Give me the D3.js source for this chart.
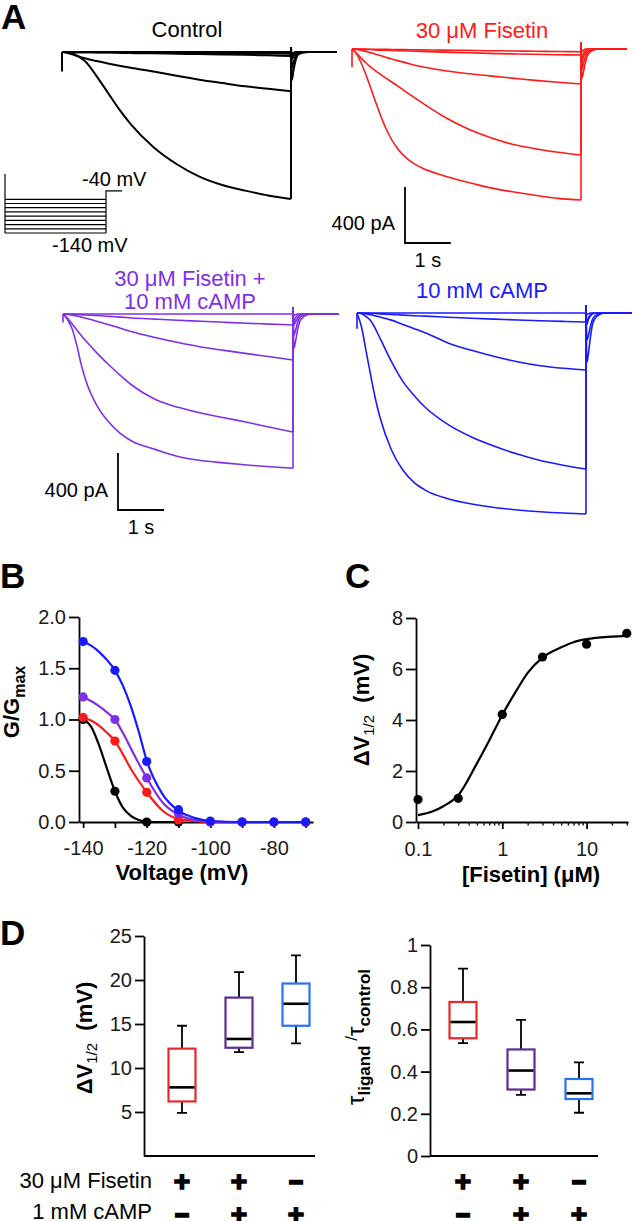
<!DOCTYPE html>
<html><head><meta charset="utf-8">
<script src="https://cdn.jsdelivr.net/npm/d3@7"></script>
<style>body{margin:0;background:#fff}svg{display:block}</style>
</head><body><svg id="fig" width="633" height="1221"></svg>
<script>
// ---------------- DATA ----------------
// Panel A: current traces (pA) sampled at times (s)
const stepTimes = [0, 0.1, 0.2, 0.3, 0.4, 0.5, 0.75, 1, 1.25, 1.5, 2, 2.5, 3, 3.5, 4, 4.5, 5];
const tailTimes = [5, 5.02, 5.05, 5.1, 5.15, 5.25, 5.4, 6.0];

const controlSteps = [
  [0, -2, -8, -20, -40, -65, -170, -290, -410, -515, -680, -800, -890, -950, -990, -1025, -1050],
  [0, -5, -14, -25, -35, -45, -65, -82, -98, -113, -140, -170, -198, -222, -245, -263, -280],
  [0, 0, -1, -1, -2, -2, -3, -4, -6, -8, -9, -12, -15, -18, -20, -24, -28],
  [0, 0, 0, -1, -1, -1, -2, -2, -3, -4, -5, -6, -7, -8, -9, -11, -12],
  [0, 0, 0, 0, 0, 0, 0, 0, 0, 0, 0, 0, 0, 0, 0, 0, 0]
];
const controlTails = [
  [35, -40, -20, -5, 0, 0, 0, 0],
  [30, -200, -140, -60, -20, -5, 0, 0],
  [20, -110, -80, -30, -10, 0, 0, 0],
  [10, -50, -30, -10, 0, 0, 0, 0],
  [0, -15, -8, 0, 0, 0, 0, 0]
];
const fisetinSteps = [
  [0, -35, -100, -180, -270, -365, -575, -715, -795, -845, -905, -950, -990, -1020, -1045, -1067, -1079],
  [0, -30, -65, -98, -127, -152, -210, -265, -322, -378, -482, -566, -630, -680, -712, -738, -757],
  [0, -4, -10, -17, -26, -35, -60, -83, -105, -125, -153, -175, -192, -208, -224, -238, -250],
  [0, -1, -2, -3, -4, -6, -9, -12, -14, -17, -22, -27, -31, -35, -38, -41, -43],
  [0, 0, -1, -1, -2, -2, -3, -4, -5, -6, -8, -10, -12, -14, -16, -18, -20]
];
const fisetinTails = [
  [50, -100, -40, -10, 0, 0, 0, 0],
  [45, -207, -170, -90, -40, -10, 0, 0],
  [30, -145, -110, -50, -20, -5, 0, 0],
  [15, -76, -55, -25, -10, 0, 0, 0],
  [0, -20, -10, 0, 0, 0, 0, 0]
];
const comboSteps = [
  [0, -40, -105, -220, -360, -470, -650, -760, -840, -893, -950, -1000, -1028, -1045, -1060, -1072, -1082],
  [0, -30, -70, -112, -152, -190, -278, -358, -432, -500, -598, -655, -695, -728, -760, -795, -828],
  [0, -3, -8, -14, -22, -30, -52, -75, -100, -125, -165, -200, -231, -255, -278, -300, -323],
  [0, -1, -2, -3, -5, -7, -11, -17, -22, -28, -36, -44, -51, -58, -65, -71, -77],
  [0, 0, 0, 0, 0, 0, 0, 0, 0, 0, 0, 0, 0, 0, 0, 0, 0]
];
const comboTails = [
  [50, -60, -30, -10, 0, 0, 0, 0],
  [45, -240, -200, -110, -50, -15, 0, 0],
  [35, -150, -120, -60, -25, -5, 0, 0],
  [15, -77, -60, -30, -10, 0, 0, 0],
  [0, -10, -5, 0, 0, 0, 0, 0]
];
const campSteps = [
  [0, -100, -270, -440, -600, -730, -960, -1102, -1190, -1245, -1305, -1340, -1365, -1382, -1395, -1404, -1410],
  [0, -5, -25, -55, -110, -175, -340, -480, -580, -665, -785, -870, -935, -990, -1035, -1068, -1095],
  [0, -2, -6, -12, -20, -28, -50, -80, -110, -140, -212, -262, -305, -342, -370, -388, -400],
  [0, -1, -2, -3, -4, -6, -10, -15, -19, -22, -30, -37, -43, -49, -54, -59, -63],
  [0, 0, 0, 0, 0, 0, 0, 0, 0, 0, 0, 0, 0, 0, 0, 0, 0]
];
const campTails = [
  [55, -80, -40, -10, 0, 0, 0, 0],
  [55, -345, -290, -160, -70, -20, 0, 0],
  [40, -190, -160, -90, -40, -10, 0, 0],
  [15, -60, -45, -20, -5, 0, 0, 0],
  [0, -10, -5, 0, 0, 0, 0, 0]
];
const capPeaks = [-140, -130, -60, -110];   // capacitive transient at pulse onset (pA)
const traceTitles = [["Control"], ["30 \u03bcM Fisetin"], ["30 \u03bcM Fisetin +", "10 mM cAMP"], ["10 mM cAMP"]];

// voltage protocol (mV, s)
const protoTestV = [-140, -130, -120, -110, -100, -90, -80, -70, -60];
const protoHoldV = 0;
const protoTailV = -40;
const protoTimes = [0, 5, 5.8];
const scaleBarI = 400;   // pA
const scaleBarT = 1;     // s

// Panel B: G/Gmax vs voltage
const bVolt = [-140, -130, -120, -110, -100, -90, -80, -70];
const bBlack = [1.0, 0.30, 0.0, 0.0];
const bRed = [1.02, 0.79, 0.29, 0.02, 0, 0, 0, 0];
const bPurple = [1.22, 1.00, 0.43, 0.08, 0, 0, 0, 0];
const bBlue = [1.76, 1.48, 0.59, 0.12, 0.01, 0, 0, 0];
const fitVolt = [-140, -137.5, -135, -132.5, -130, -127.5, -125, -122.5, -120, -115, -110, -105, -100, -90, -80, -70];
const fitBlack = [1.0, 0.93, 0.75, 0.52, 0.30, 0.14, 0.06, 0.02, 0.005, 0, 0];
const fitRed = [1.02, 0.99, 0.94, 0.87, 0.79, 0.66, 0.52, 0.40, 0.29, 0.11, 0.03, 0.01, 0, 0, 0, 0];
const fitPurple = [1.22, 1.18, 1.13, 1.07, 1.00, 0.87, 0.72, 0.57, 0.43, 0.19, 0.07, 0.02, 0.005, 0, 0, 0];
const fitBlue = [1.76, 1.72, 1.66, 1.58, 1.48, 1.33, 1.13, 0.88, 0.60, 0.27, 0.11, 0.04, 0.01, 0, 0, 0];
const bYTicks = [0, 0.5, 1, 1.5, 2];
const bXTicks = [-140, -130, -120, -110, -100, -90, -80, -70];
const bXLabels = [-140, -120, -100, -80];

// Panel C: dose response
const cConc = [0.1, 0.3, 1, 3, 10, 30];
const cDV = [0.88, 0.93, 4.22, 6.47, 6.97, 7.4];
const cFitConc = [0.1, 0.15, 0.2, 0.3, 0.5, 0.7, 1, 1.5, 2, 3, 5, 7, 10, 20, 30];
const cFitDV = [0.27, 0.42, 0.62, 1.05, 2.3, 3.2, 4.2, 5.2, 5.85, 6.45, 6.85, 7.05, 7.17, 7.27, 7.3];
const cYTicks = [0, 2, 4, 6, 8];
const cXMajor = [0.1, 1, 10];
const cXMinor = [0.2, 0.3, 0.4, 0.5, 0.6, 0.7, 0.8, 0.9, 2, 3, 4, 5, 6, 7, 8, 9, 20, 30];

// Panel D: box plots
const dGroups = ["Fisetin", "Fisetin+cAMP", "cAMP"];
const dvMin = [4.9, 11.8, 12.8];
const dvQ1 = [6.2, 12.3, 14.8];
const dvMed = [7.8, 13.3, 17.3];
const dvQ3 = [12.2, 18.0, 19.6];
const dvMax = [14.8, 20.9, 22.8];
const tauMin = [0.535, 0.29, 0.205];
const tauQ1 = [0.558, 0.315, 0.27];
const tauMed = [0.635, 0.405, 0.297];
const tauQ3 = [0.73, 0.505, 0.365];
const tauMax = [0.888, 0.645, 0.444];
const dvTicks = [5, 10, 15, 20, 25];
const tauTicks = [0, 0.2, 0.4, 0.6, 0.8, 1];
const fisetinSigns = ["+", "+", "\u2212"];
const campSigns = ["\u2212", "+", "+"];
const condLabels = ["30 \u03bcM Fisetin", "1 mM cAMP"];

// ---------------- DRAWING ----------------
const FONT = '"Liberation Sans", Arial, Helvetica, sans-serif';
const svg = d3.select("#fig").attr("font-family", FONT);
const C_BLACK = "#000", C_RED = "#ff1a1a", C_PURPLE = "#7f2fe6", C_BLUE = "#1a1aff";
const BOX_COLORS = ["#e8282b", "#5b2d95", "#2a72f0"];

function text(x, y, s, o = {}) {
  const t = svg.append("text").attr("x", x).attr("y", y).text(s)
    .attr("font-size", o.size || 20).attr("fill", o.fill || "#111")
    .attr("text-anchor", o.anchor || "start");
  if (o.weight) t.attr("font-weight", o.weight);
  return t;
}

// Panel letters
[["A", 1, 29], ["B", 0, 588], ["C", 345, 588], ["D", 0, 945]].forEach(([s, x, y]) =>
  text(x, y, s, {size: 35, weight: "bold", fill: "#000"}));

// ---- Panel A traces
const panelsA = [
  {steps: controlSteps, tails: controlTails, color: C_BLACK, x0: 62, y0: 52, pxS: 45.8, px400: 56, sw: 2, cap: capPeaks[0], title: traceTitles[0], tx: 187, ty: [37]},
  {steps: fisetinSteps, tails: fisetinTails, color: C_RED, x0: 352, y0: 49, pxS: 45.8, px400: 56, sw: 1.6, cap: capPeaks[1], title: traceTitles[1], tx: 482, ty: [38]},
  {steps: comboSteps, tails: comboTails, color: C_PURPLE, x0: 63, y0: 314, pxS: 46, px400: 57, sw: 1.6, cap: capPeaks[2], title: traceTitles[2], tx: 190, ty: [286, 309]},
  {steps: campSteps, tails: campTails, color: C_BLUE, x0: 357, y0: 313, pxS: 45.8, px400: 57, sw: 1.6, cap: capPeaks[3], title: traceTitles[3], tx: 482, ty: [298]}
];
const scalesA = panelsA.map(p => {
  const x = d3.scaleLinear().domain([0, 5]).range([p.x0, p.x0 + p.pxS * 5]);
  const y = d3.scaleLinear().domain([0, -scaleBarI]).range([p.y0, p.y0 + p.px400]);
  const g = svg.append("g").attr("fill", "none").attr("stroke", p.color)
    .attr("stroke-width", p.sw).attr("stroke-linejoin", "round");
  const lineM = d3.line().x(d => x(d[0])).y(d => y(d[1])).curve(d3.curveMonotoneX);
  const lineL = d3.line().x(d => x(d[0])).y(d => y(d[1]));
  g.append("path").attr("d", lineL([[0, 0], [0, p.cap]]));
  p.steps.forEach((vals, i) => {
    const tails = p.tails[i];
    g.append("path").attr("d", lineM(stepTimes.map((t, j) => [t, vals[j]])));
    g.append("path").attr("d", lineL([[5, vals[vals.length - 1]], [5, tails[0]]]));
    g.append("path").attr("d", lineM(tailTimes.map((t, j) => [t, tails[j]])));
  });
  p.title.forEach((s, k) => text(p.tx, p.ty[k], s, {size: 22, anchor: "middle", fill: p.color === C_BLACK ? "#000" : p.color}));
  return {x, y};
});

// scale bars
function scaleBar(sc, ox, oy) {
  const h = sc.y(-scaleBarI) - sc.y(0), w = sc.x(scaleBarT) - sc.x(0);
  svg.append("path").attr("d", `M${ox},${oy - h}V${oy}H${ox + w}`)
    .attr("fill", "none").attr("stroke", "#000").attr("stroke-width", 1.8);
  text(ox - 10, oy - 13, scaleBarI + " pA", {size: 20, anchor: "end", fill: "#000"});
  text(ox + w / 2, oy + 24, scaleBarT + " s", {size: 20, anchor: "middle", fill: "#000"});
}
scaleBar(scalesA[1], 405, 243);
scaleBar(scalesA[2], 118, 510);

// voltage protocol inset
{
  const px = d3.scaleLinear().domain([0, 5]).range([5, 106]);
  const py = d3.scaleLinear().domain([-140, 0]).range([233, 174]);
  const g = svg.append("g").attr("stroke", "#000").attr("stroke-width", 1.2).attr("fill", "none");
  const l = d3.line().x(d => px(d[0])).y(d => py(d[1]));
  protoTestV.forEach(v => g.append("path").attr("d", l([[protoTimes[0], v], [protoTimes[1], v]])));
  g.append("path").attr("d", l([[protoTimes[0], protoHoldV], [protoTimes[0], d3.min(protoTestV)]]));
  g.append("path").attr("d", l([[protoTimes[1], d3.min(protoTestV)], [protoTimes[1], protoTailV], [protoTimes[2], protoTailV]]));
  text(px(protoTimes[1]) - 24, py(protoTailV) - 5, protoTailV + " mV", {size: 20, fill: "#000"});
  text(px(protoTimes[0]) + 47, py(d3.min(protoTestV)) + 19, d3.min(protoTestV) + " mV", {size: 20, fill: "#000"});
}

// axis styling
function styleAxis(g, size = 20) {
  g.selectAll("path.domain, line").attr("stroke", "#000").attr("stroke-width", 1.8);
  g.selectAll("text").attr("font-size", size).attr("fill", "#1a1a1a").attr("font-family", FONT);
}

// ---- Panel B
{
  const x = d3.scaleLinear().domain([-141.3, -67.7]).range([79, 313]);
  const y = d3.scaleLinear().domain([0, 2]).range([822, 617]);
  const gy = svg.append("g").attr("transform", "translate(79,0)")
    .call(d3.axisLeft(y).tickValues(bYTicks).tickFormat(d3.format(".1f")).tickSize(10).tickPadding(3).tickSizeOuter(0));
  styleAxis(gy);
  const gx = svg.append("g").attr("transform", "translate(0,822)")
    .call(d3.axisBottom(x).tickValues(bXTicks).tickFormat(d => bXLabels.includes(d) ? d : "").tickSize(6).tickPadding(13).tickSizeOuter(0));
  styleAxis(gx);
  gx.selectAll("text").text(function () { return d3.select(this).text().replace("\u2212", "-"); });
  text(182, 880, "Voltage (mV)", {size: 22, weight: "bold", anchor: "middle", fill: "#000"});
  const yl = svg.append("text").attr("transform", "translate(19,702) rotate(-90)")
    .attr("text-anchor", "middle").attr("font-weight", "bold").attr("font-size", 22).attr("fill", "#000");
  yl.append("tspan").text("G/G");
  yl.append("tspan").text("max").attr("font-size", 16).attr("dy", 6);

  const series = [
    {fit: fitBlack, pts: bBlack, c: C_BLACK},
    {fit: fitRed, pts: bRed, c: C_RED},
    {fit: fitPurple, pts: bPurple, c: C_PURPLE},
    {fit: fitBlue, pts: bBlue, c: C_BLUE}
  ];
  const line = d3.line().x(d => x(d[0])).y(d => y(d[1])).curve(d3.curveMonotoneX);
  series.forEach(s => {
    svg.append("path").attr("d", line(s.fit.map((v, i) => [fitVolt[i], v])))
      .attr("fill", "none").attr("stroke", s.c).attr("stroke-width", 2.2);
    svg.append("g").selectAll("circle").data(s.pts.map((v, i) => [bVolt[i], v])).join("circle")
      .attr("cx", d => x(d[0])).attr("cy", d => y(d[1])).attr("r", 4.6).attr("fill", s.c);
  });
}

// ---- Panel C
{
  const x = d3.scaleLog().domain([0.0947, 31]).range([416, 628]);
  const y = d3.scaleLinear().domain([0, 8]).range([822, 618]);
  const gy = svg.append("g").attr("transform", "translate(416,0)")
    .call(d3.axisLeft(y).tickValues(cYTicks).tickFormat(d3.format("d")).tickSize(10).tickPadding(3).tickSizeOuter(0));
  styleAxis(gy);
  const gx = svg.append("g").attr("transform", "translate(0,822)")
    .call(d3.axisBottom(x).tickValues(cXMajor).tickFormat(d => String(d)).tickSize(7).tickPadding(13).tickSizeOuter(0));
  styleAxis(gx);
  const gm = svg.append("g").attr("transform", "translate(0,822)")
    .call(d3.axisBottom(x).tickValues(cXMinor).tickFormat("").tickSize(3.5).tickSizeOuter(0));
  styleAxis(gm);
  gm.select("path.domain").remove();
  gm.selectAll("line").attr("stroke-width", 1.3);
  text(531, 882, "[Fisetin] (\u03bcM)", {size: 22, weight: "bold", anchor: "middle", fill: "#000"});
  const yl = svg.append("text").attr("transform", "translate(369,710) rotate(-90)")
    .attr("text-anchor", "middle").attr("font-weight", "bold").attr("font-size", 22).attr("fill", "#000");
  yl.append("tspan").text("\u0394V");
  yl.append("tspan").text("1/2").attr("font-size", 15).attr("font-weight", "normal").attr("dy", 5);
  yl.append("tspan").text("\u00a0\u00a0(mV)").attr("dy", -5);
  const line = d3.line().x(d => x(d[0])).y(d => y(d[1])).curve(d3.curveMonotoneX);
  svg.append("path").attr("d", line(cFitConc.map((c, i) => [c, cFitDV[i]])))
    .attr("fill", "none").attr("stroke", "#000").attr("stroke-width", 2.2);
  svg.append("g").selectAll("circle").data(cConc.map((c, i) => [c, cDV[i]])).join("circle")
    .attr("cx", d => x(d[0])).attr("cy", d => y(d[1])).attr("r", 4.6).attr("fill", "#000");
}

// ---- Panel D
function boxPanel(o) {
  const x = d3.scalePoint().domain(dGroups).range(o.xr);
  const y = d3.scaleLinear().domain(o.domain).range([1156, o.top]);
  const gy = svg.append("g").attr("transform", `translate(${o.ax},0)`)
    .call(d3.axisLeft(y).tickValues(o.ticks).tickFormat(o.fmt).tickSize(9).tickPadding(3).tickSizeOuter(0));
  styleAxis(gy);
  svg.append("line").attr("x1", o.ax).attr("x2", o.axEnd).attr("y1", y(0)).attr("y2", y(0))
    .attr("stroke", "#000").attr("stroke-width", 1.8);
  const bw = 27, cw = 10;
  dGroups.forEach((gName, i) => {
    const cx = x(gName);
    const g = svg.append("g");
    g.append("path").attr("d",
      `M${cx},${y(o.q3[i])}V${y(o.max[i])}M${cx - cw / 2},${y(o.max[i])}H${cx + cw / 2}` +
      `M${cx},${y(o.q1[i])}V${y(o.min[i])}M${cx - cw / 2},${y(o.min[i])}H${cx + cw / 2}`)
      .attr("stroke", "#000").attr("stroke-width", 1.8).attr("fill", "none");
    g.append("rect").attr("x", cx - bw / 2).attr("width", bw)
      .attr("y", y(o.q3[i])).attr("height", y(o.q1[i]) - y(o.q3[i]))
      .attr("fill", "none").attr("stroke", BOX_COLORS[i]).attr("stroke-width", 2.2);
    g.append("line").attr("x1", cx - bw / 2 + 1).attr("x2", cx + bw / 2 - 1)
      .attr("y1", y(o.med[i])).attr("y2", y(o.med[i])).attr("stroke", "#000").attr("stroke-width", 2.6);
    [fisetinSigns, campSigns].forEach((signs, r) => {
      const isPlus = signs[i] === "+";
      text(cx, 1181 + r * 33, signs[i], {size: isPlus ? 28 : 24, weight: "bold", anchor: "middle", fill: "#000"})
        .attr("dominant-baseline", "central")
        .attr("stroke", "#000").attr("stroke-width", isPlus ? 1.6 : 2.2);
    });
  });
  return y;
}
boxPanel({xr: [182, 296], domain: [0, 25], top: 936, ax: 144, axEnd: 315, ticks: dvTicks, fmt: d3.format("d"),
  min: dvMin, q1: dvQ1, med: dvMed, q3: dvQ3, max: dvMax});
boxPanel({xr: [463, 579], domain: [0, 1], top: 945, ax: 430, axEnd: 598, ticks: tauTicks, fmt: d => (d === 0 || d === 1) ? String(d) : d.toFixed(1),
  min: tauMin, q1: tauQ1, med: tauMed, q3: tauQ3, max: tauMax});

// D y labels
{
  const yl = svg.append("text").attr("transform", "translate(92,1038) rotate(-90)")
    .attr("text-anchor", "middle").attr("font-weight", "bold").attr("font-size", 22).attr("fill", "#000");
  yl.append("tspan").text("\u0394V");
  yl.append("tspan").text("1/2").attr("font-size", 15).attr("font-weight", "normal").attr("dy", 5);
  yl.append("tspan").text("\u00a0\u00a0(mV)").attr("dy", -5);

  const t2 = svg.append("text").attr("transform", "translate(364,1037) rotate(-90)")
    .attr("text-anchor", "middle").attr("font-size", 24).attr("fill", "#000");
  t2.append("tspan").text("\u03c4");
  t2.append("tspan").text("ligand").attr("font-size", 17).attr("font-weight", "bold").attr("dy", 6);
  t2.append("tspan").text("\u00a0/").attr("font-size", 17).attr("dy", -13);
  t2.append("tspan").text("\u03c4").attr("dy", 7);
  t2.append("tspan").text("control").attr("font-size", 17).attr("font-weight", "bold").attr("dy", 6);
}
// condition labels
condLabels.forEach((s, r) => text(152, 1188 + r * 31, s, {size: 22, anchor: "end", fill: "#000"}));
</script></body></html>
